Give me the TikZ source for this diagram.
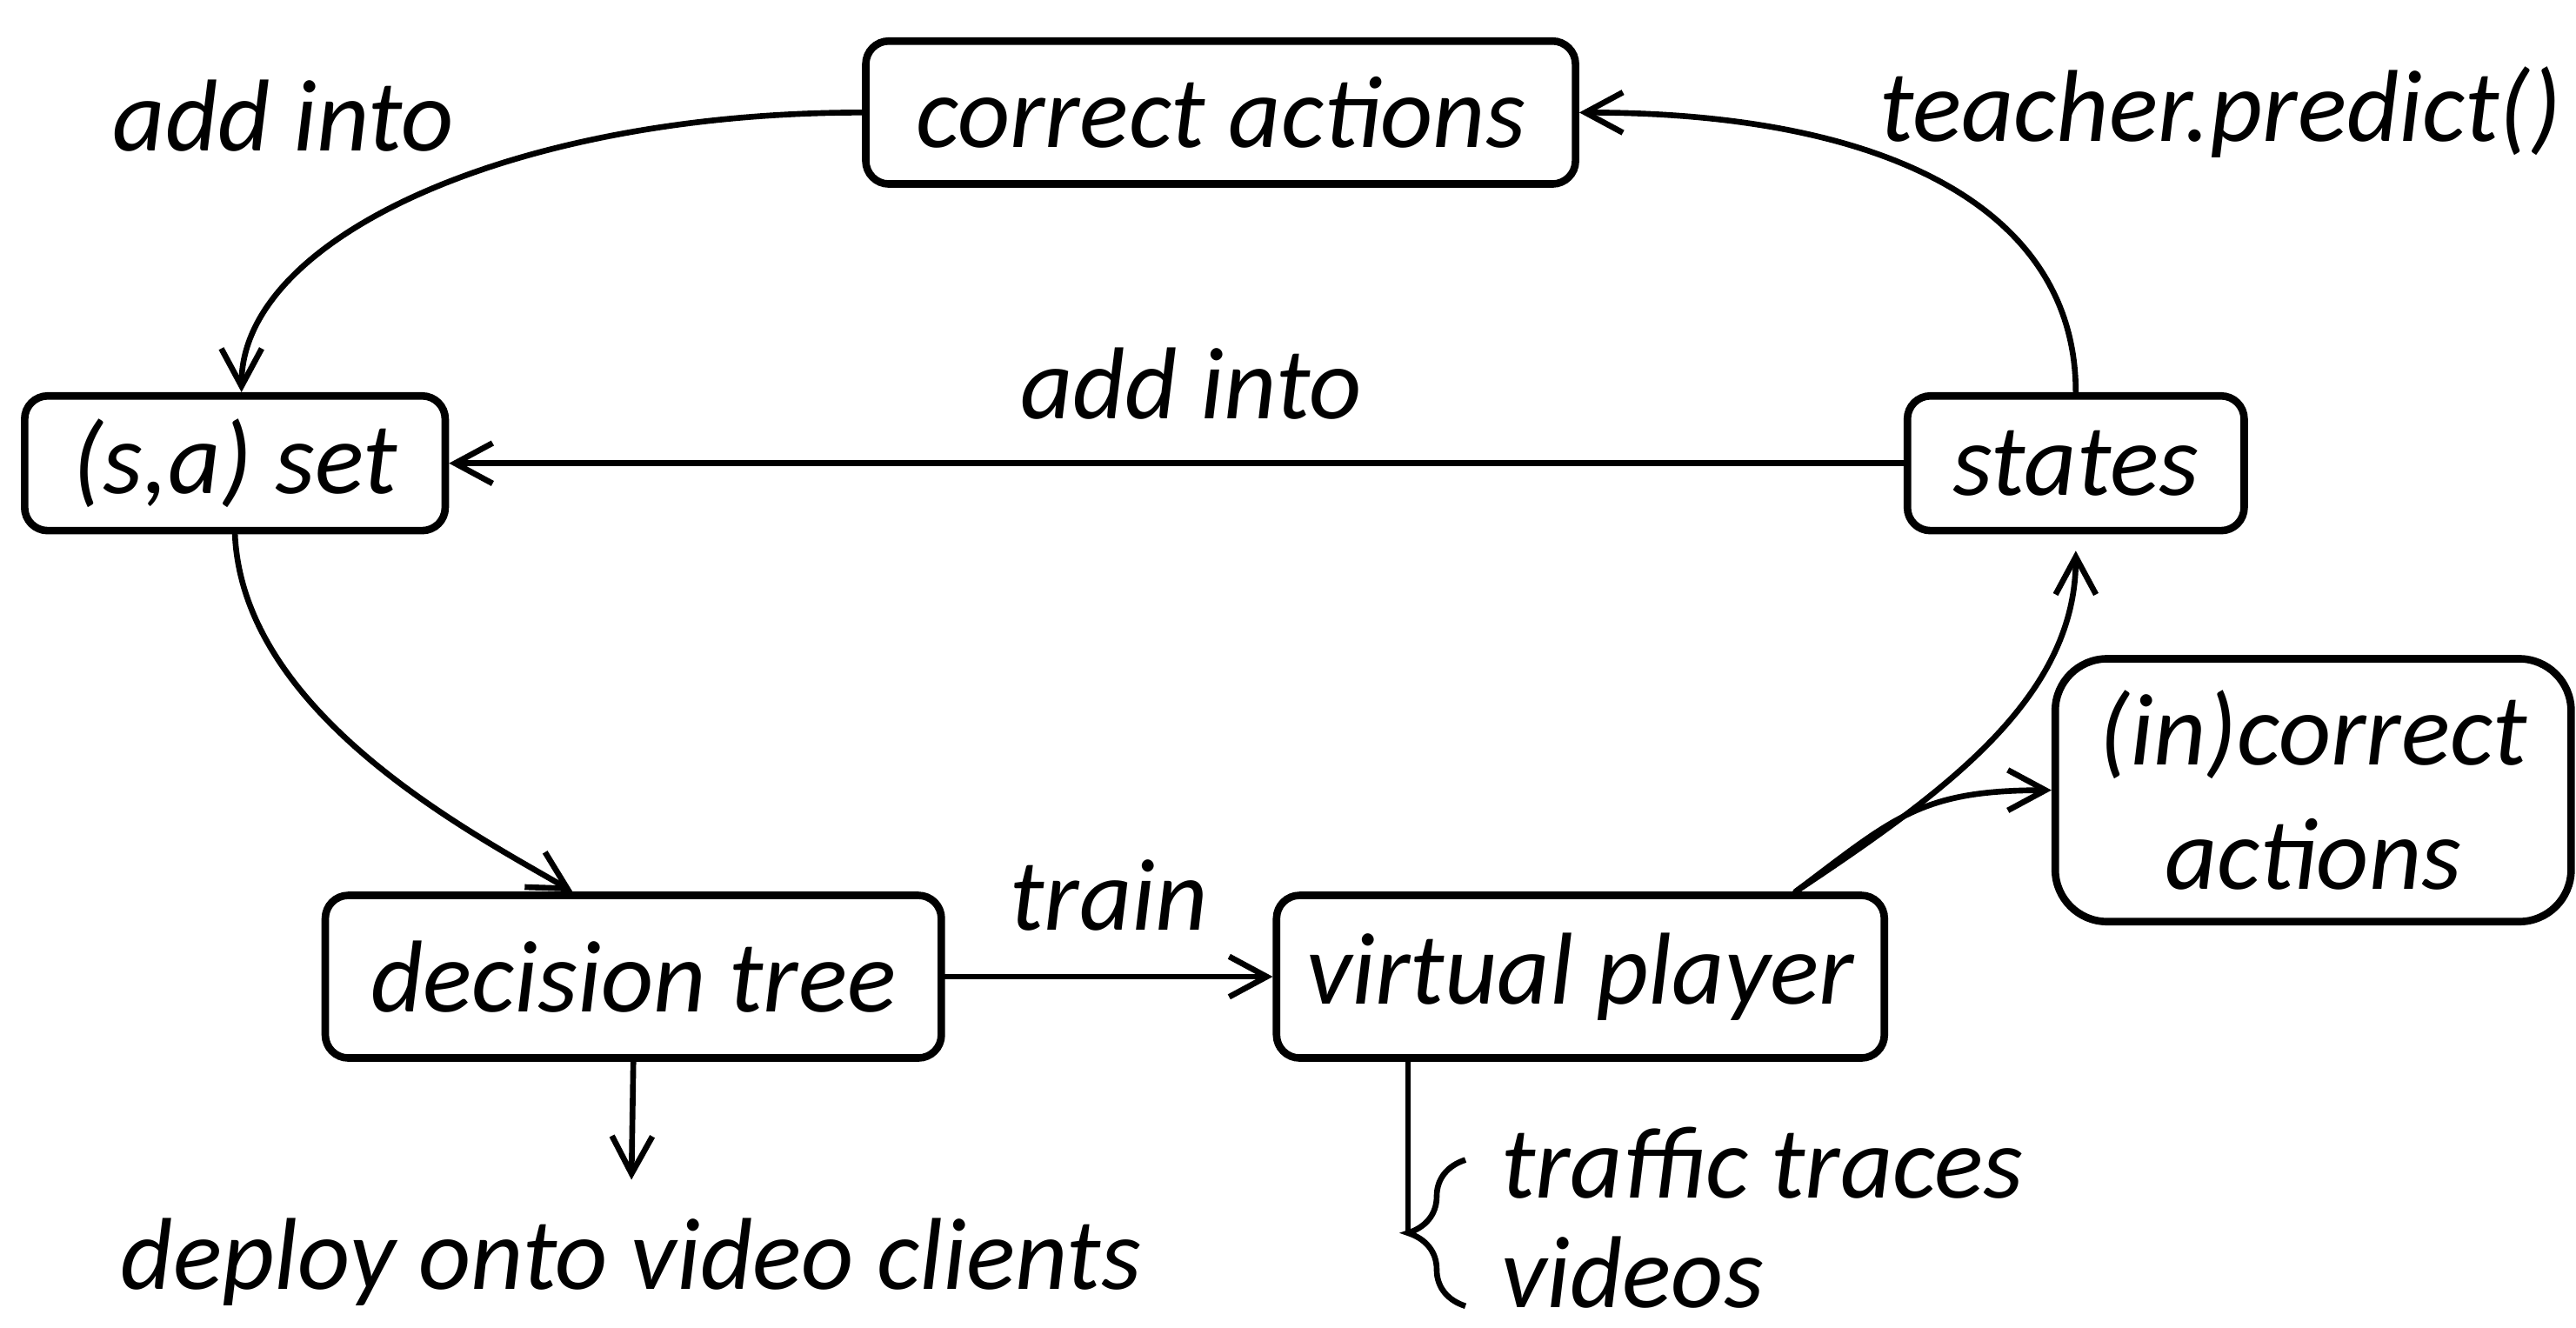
\documentclass[tikz,border=0pt]{standalone}
\usepackage{fontspec}
\setmainfont{Carlito}
\usetikzlibrary{arrows.meta, positioning, decorations.pathreplacing}

\begin{document}
\begin{tikzpicture}[
  box/.style={draw, rounded corners=4pt, line width=1.3pt, inner sep=0pt, minimum height=0.82cm},
  lbl/.style={inner sep=0pt},
  arr/.style={-{Straight Barb[length=6.5pt, width=7pt]}, line width=1pt, line cap=round},
  font=\fontsize{17.7}{21.5}\selectfont\itshape,
]
  \useasboundingbox (0,0) rectangle (15.68,8.08);

  % boxes
  \node[box, minimum width=4.32cm, minimum height=0.87cm] (ca) at (7.43, 7.395) {correct actions};
  \node[box, minimum width=2.56cm] (sa) at (1.43, 5.26) {(s,a) set};
  \node[box, minimum width=2.05cm] (st) at (12.635, 5.26) {states};
  \node[box, minimum width=3.75cm, minimum height=0.99cm] (dt) at (3.855, 2.135) {decision tree};
  \node[box, minimum width=3.70cm, minimum height=0.99cm] (vp) at (9.62, 2.135) {virtual player};
  \node[box, rounded corners=9pt, minimum width=3.14cm, minimum height=1.6cm, align=center] (ic) at (14.08, 3.27) {(in)correct\\actions};

  % free labels
  \node[lbl, anchor=base] (addt) at (1.725, 7.16) {add into};
  \node[lbl, anchor=base] (tp) at (13.515, 7.22) {teacher.predict()};
  \node[lbl, anchor=base] (dep) at (3.84, 0.23) {deploy onto video clients};
  \node[lbl, anchor=base west] (trc) at (9.13, 0.79) {traffic traces};
  \node[lbl, anchor=base west] (vid) at (9.13, 0.12) {videos};

  \coordinate (vpo) at ([xshift=1.31cm]vp.north);
  \coordinate (bt) at (8.57, 0.575);

  % the loop
  \draw[arr] (ca.west) .. controls +(-2.1,0) and +(0,0.95) .. ([xshift=0.04cm]sa.north);
  \draw[arr] (st.north) .. controls +(0,1.1) and +(1.9,0) .. (ca.east);
  \draw[arr] (st) -- (sa) node[lbl, pos=0.49, above=0.25cm] (addm) {add into};
  \draw[arr] (sa.south) .. controls +(0.05,-1.1) and +(-0.6,0.35) .. ([xshift=-0.37cm]dt.north);
  \draw[arr] (dt) -- (vp) node[lbl, midway, above=0.26cm] (trn) {train};
  \draw[arr, shorten >=0.1cm] (vpo) .. controls +(0.9,0.6) and +(0,-1.0) .. (st.south);
  \draw[arr] (vpo) .. controls +(0.6,0.45) and +(-0.8,0) .. (ic.west);
  \draw[arr, shorten >=0.23cm] (dt.south) -- (dep.north);

  % inputs of the player
  \draw[line width=1pt] (vp.south -| bt) -- (bt);
  \draw[line width=1pt, decorate, decoration={brace, amplitude=0.35cm}] (8.92, 0.13) -- (8.92, 1.02);
\end{tikzpicture}
\end{document}
